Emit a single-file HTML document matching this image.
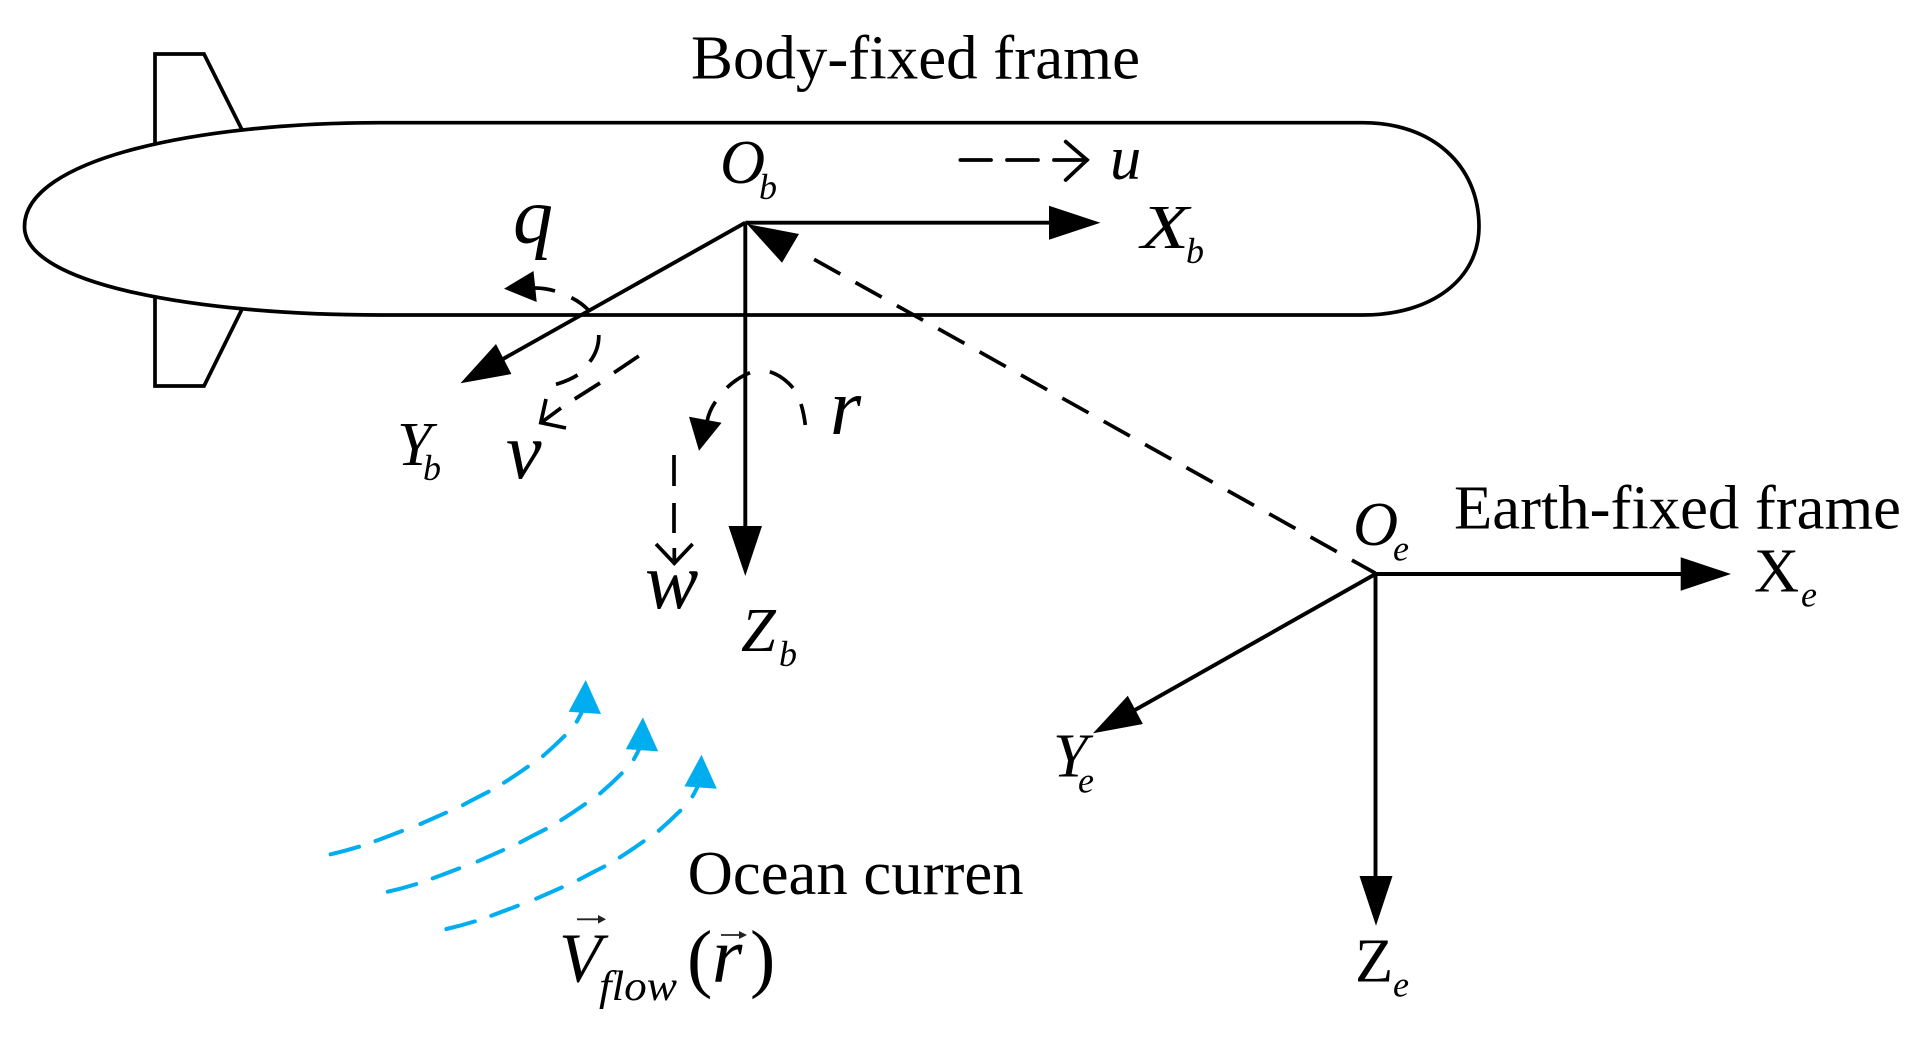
<!DOCTYPE html>
<html>
<head>
<meta charset="utf-8">
<style>
html,body{margin:0;padding:0;background:#fff;}
svg{display:block;}
text{font-family:"Liberation Serif",serif;fill:#000;}
.i{font-style:italic;}
.l{font-size:62.5px;}
.s{font-size:36px;}
.m{font-size:80px;}
</style>
</head>
<body>
<svg width="1915" height="1042" viewBox="0 0 1915 1042" xmlns="http://www.w3.org/2000/svg">
<rect width="1915" height="1042" fill="#fff"/>

<!-- Hull and fins -->
<g fill="none" stroke="#000" stroke-width="3.7" stroke-linejoin="miter">
<path d="M380,122.7 L1363,122.7 C1432,122.7 1479,165 1479,226.7 C1479,279 1432,315 1363,315 L380,315 C200,315 24.5,285 24.5,226.7 C24.5,158 200,122.7 380,122.7 Z"/>
<path d="M155,145 L155,54 L204,54 L241.6,129"/>
<path d="M155,297 L155,386 L204,386 L241.6,310"/>
</g>

<!-- Body axes -->
<g fill="none" stroke="#000" stroke-width="3.9">
<path d="M745.3,222.7 H1055"/>
<path d="M745.3,222.7 V530"/>
<path d="M745.3,222.7 L503,359"/>
</g>
<g fill="#000" stroke="none">
<polygon points="1100.4,222.7 1049,205.7 1049,239.7"/>
<polygon points="745.3,576 728.5,526 762,526"/>
<polygon points="460.4,383.3 496,344 511.4,374"/>
</g>

<!-- Oe-Ob dashed -->
<path d="M1375.5,573.3 L775,237.5" fill="none" stroke="#000" stroke-width="3.7" stroke-dasharray="27 17.4 30 17.4 30 17.4 30 17.4 30 17.4 30 17.4 30 17.4 30 17.4 30 17.4 30 17.4 30 17.4 30 17.4 30 17.4 30 100"/>
<polygon points="747,224 799,234 782,262.7" fill="#000"/>

<!-- u arrow -->
<g fill="none" stroke="#000" stroke-width="3.8" stroke-linecap="round">
<path d="M960.4,160 H991"/>
<path d="M1007,160 H1038"/>
<path d="M1054,160 H1087"/>
<path d="M1065.7,141.7 L1087,160 L1065.7,180"/>
</g>

<!-- q arc -->
<g fill="none" stroke="#000" stroke-width="3.7">
<path d="M534.7,288 Q545,288 555,291"/>
<path d="M571.4,297.7 Q582,303 590,311.7"/>
<path d="M598.8,335 Q599,350 589.8,361.7"/>
<path d="M577.6,375 Q568,381 556,384.3"/>
</g>
<polygon points="504,288.7 533.5,271 536.7,302" fill="#000"/>

<!-- v arrow -->
<g fill="none" stroke="#000" stroke-width="3.7">
<path d="M638.8,356 L614,372.7"/>
<path d="M600,383 L574.7,399"/>
<path d="M561,408 L541,422.7"/>
<path d="M546,399 L540.8,422.7 L566,428"/>
</g>

<!-- r arc -->
<g fill="none" stroke="#000" stroke-width="3.7">
<path d="M805.3,425 Q804,414 801,404"/>
<path d="M793,388 Q783,376 769.8,371.7"/>
<path d="M750,372.7 Q737,378 727,387.7"/>
<path d="M715.5,401.7 Q709,411 707,421.7"/>
</g>
<polygon points="699,450.7 689,416.7 721.6,422.7" fill="#000"/>

<!-- w arrow -->
<g fill="none" stroke="#000" stroke-width="3.7">
<path d="M674,455 V486"/>
<path d="M674,503 V533"/>
<path d="M674.3,548 V563"/>
<path d="M656,544 L674.3,563.3 L692.6,544"/>
</g>

<!-- Earth axes -->
<g fill="none" stroke="#000" stroke-width="3.9">
<path d="M1375.5,574 H1685"/>
<path d="M1375.5,574 V880"/>
<path d="M1375.5,574 L1135,710"/>
</g>
<g fill="#000" stroke="none">
<polygon points="1731,574 1680.7,557.3 1680.7,590.7"/>
<polygon points="1376,925.7 1359.5,876 1392.5,876"/>
<polygon points="1093,733.3 1127.8,695.7 1142.9,724"/>
</g>

<!-- Ocean current arrows -->
<g fill="none" stroke="#00aeef" stroke-width="4" stroke-linecap="round">
<path d="M330.6,854.3 Q345,851 359,846.7"/>
<path d="M375.5,841 Q389,836 402,831"/>
<path d="M420.4,824 Q433,818.5 446,812.7"/>
<path d="M463,805 Q476,798 488.6,791.7"/>
<path d="M504,782.7 Q516,775 527.8,766.7"/>
<path d="M543,756 Q554,746.5 564.5,736"/>
<path d="M576.7,721.7 Q580,716 583.7,708"/>
<polygon points="585.7,680 568.6,711.7 601,714" fill="#00aeef" stroke="none"/>
</g>
<g transform="translate(57.2,37.4)" fill="none" stroke="#00aeef" stroke-width="4" stroke-linecap="round">
<path d="M330.6,854.3 Q345,851 359,846.7"/>
<path d="M375.5,841 Q389,836 402,831"/>
<path d="M420.4,824 Q433,818.5 446,812.7"/>
<path d="M463,805 Q476,798 488.6,791.7"/>
<path d="M504,782.7 Q516,775 527.8,766.7"/>
<path d="M543,756 Q554,746.5 564.5,736"/>
<path d="M576.7,721.7 Q580,716 583.7,708"/>
<polygon points="585.7,680 568.6,711.7 601,714" fill="#00aeef" stroke="none"/>
</g>
<g transform="translate(115.8,74.7)" fill="none" stroke="#00aeef" stroke-width="4" stroke-linecap="round">
<path d="M330.6,854.3 Q345,851 359,846.7"/>
<path d="M375.5,841 Q389,836 402,831"/>
<path d="M420.4,824 Q433,818.5 446,812.7"/>
<path d="M463,805 Q476,798 488.6,791.7"/>
<path d="M504,782.7 Q516,775 527.8,766.7"/>
<path d="M543,756 Q554,746.5 564.5,736"/>
<path d="M576.7,721.7 Q580,716 583.7,708"/>
<polygon points="585.7,680 568.6,711.7 601,714" fill="#00aeef" stroke="none"/>
</g>

<!-- Titles -->
<text class="l" x="691" y="78.3" textLength="449" lengthAdjust="spacingAndGlyphs">Body-fixed frame</text>
<text class="l" x="1454" y="528.3" textLength="447" lengthAdjust="spacingAndGlyphs">Earth-fixed frame</text>
<text class="l" x="687.6" y="894" textLength="336" lengthAdjust="spacingAndGlyphs">Ocean curren</text>

<!-- Body labels -->
<text class="l i" x="720" y="183">O</text><text class="s i" x="759" y="199">b</text>
<text class="l i" x="1110" y="179">u</text>
<text class="l i" x="1141" y="248" textLength="48" lengthAdjust="spacingAndGlyphs">X</text><text class="s i" x="1186" y="263">b</text>
<text class="m i" x="513" y="243">q</text>
<text class="l i" x="397" y="465">Y</text><text class="s i" x="423" y="480">b</text>
<text class="m i" x="506" y="478">v</text>
<text class="m i" x="830" y="434">r</text>
<text class="m i" x="645" y="608">w</text>
<text class="l i" x="741" y="651">Z</text><text class="s i" x="779" y="666">b</text>

<!-- Earth labels -->
<text class="l i" x="1353" y="545">O</text><text class="s i" x="1393" y="560.7">e</text>
<text class="l" x="1754" y="591.7">X</text><text class="s i" x="1801" y="606.7">e</text>
<text class="l i" x="1053" y="776.7">Y</text><text class="s i" x="1078" y="792.7">e</text>
<text class="l" x="1355" y="981.7">Z</text><text class="s i" x="1393" y="996.7">e</text>

<!-- V flow (r) -->
<text class="i" x="559" y="981.7" style="font-size:70px">V</text>
<text class="i" x="599" y="1000" style="font-size:42px" textLength="78" lengthAdjust="spacingAndGlyphs">flow</text>
<text x="687" y="983" style="font-size:76px">(</text>
<text class="i" x="712" y="981.7" style="font-size:78px">r</text>
<text x="750" y="983" style="font-size:76px">)</text>
<g fill="none" stroke="#222" stroke-width="1.8">
<path d="M577,919.3 H604"/>
<path d="M721,935 H745"/>
</g>
<polygon points="606,919.3 598,915 598,923.6" fill="#222"/>
<polygon points="747,935 739,931 739,939" fill="#222"/>
</svg>
</body>
</html>
